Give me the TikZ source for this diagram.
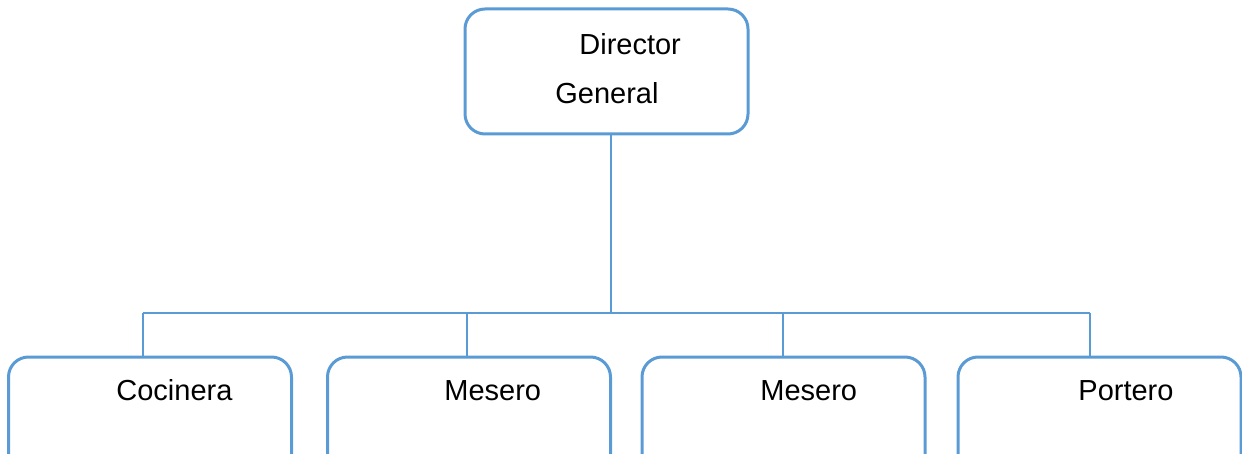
\documentclass[tikz,border=0pt]{standalone}
\usepackage{fontspec}
\setmainfont{Liberation Sans}
\definecolor{orgblue}{HTML}{5B9BD5}
\tikzset{
  puesto/.style={draw=orgblue, line width=1.5pt, rounded corners=10pt, minimum width=141.5pt, minimum height=62.5pt, inner sep=0pt},
  rotulo/.style={anchor=base west, inner sep=0pt, font=\fontsize{14.5}{17}\selectfont},
  enlace/.style={draw=orgblue, line width=0.6pt}
}
\begin{document}
\begin{tikzpicture}[x=0.5pt, y=-0.5pt]
\useasboundingbox (0,0) rectangle (1242,454);
% cajas
\node[puesto] (dir) at (606.5,71.5) {};
\node[puesto] (coc) at (150,419.5) {};
\node[puesto] (mes1) at (469,419.5) {};
\node[puesto] (mes2) at (783.5,419.5) {};
\node[puesto] (por) at (1099.5,419.5) {};
% textos
\node[rotulo] (tdir) at (579,55) {Director};
\node[rotulo] (tgen) at (555,104) {General};
\node[rotulo] (tcoc) at (116,400) {Cocinera};
\node[rotulo] (tmes1) at (444,400) {Mesero};
\node[rotulo] (tmes2) at (760,400) {Mesero};
\node[rotulo] (tpor) at (1078,400) {Portero};
% lineas
\coordinate (bus) at (611,313);
\coordinate (b1) at (143,313);
\coordinate (b2) at (467,313);
\coordinate (b3) at (783,313);
\coordinate (b4) at (1090,313);
\draw[enlace] (bus |- dir.south) -- (bus);
\draw[enlace] (b1) -- (b4);
\draw[enlace] (b1) -- (b1 |- coc.north);
\draw[enlace] (b2) -- (b2 |- mes1.north);
\draw[enlace] (b3) -- (b3 |- mes2.north);
\draw[enlace] (b4) -- (b4 |- por.north);
\end{tikzpicture}
\end{document}
